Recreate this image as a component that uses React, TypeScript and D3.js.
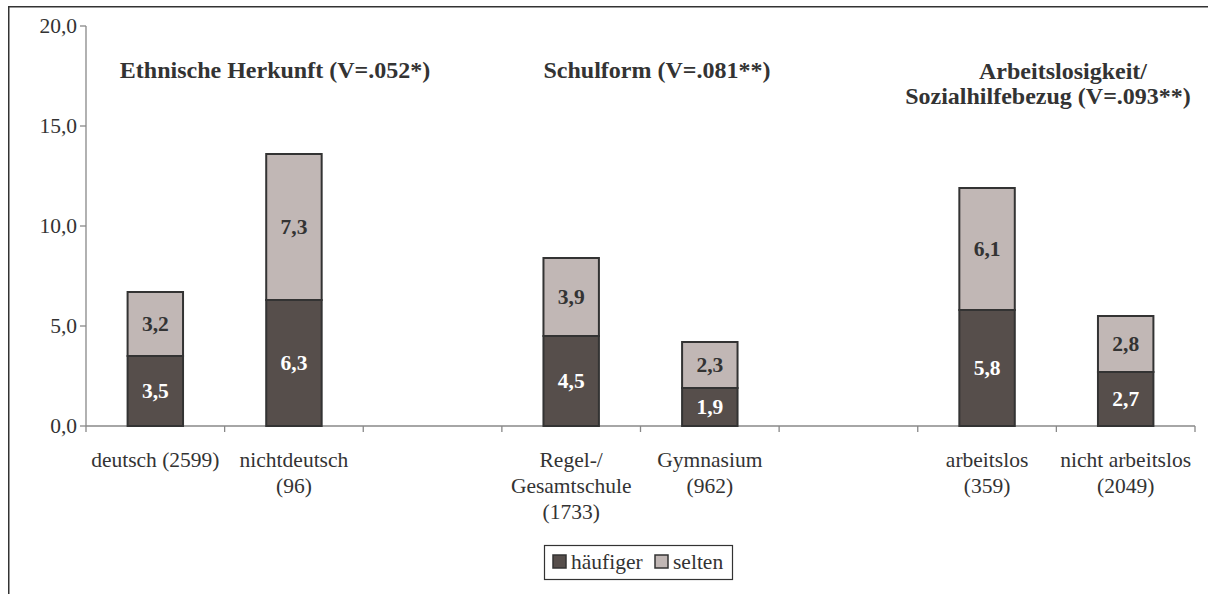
import React from "react";
import * as d3 from "d3";

const categories: string[][] = [
  ["deutsch (2599)"],
  ["nichtdeutsch", "(96)"],
  [],
  ["Regel-/", "Gesamtschule", "(1733)"],
  ["Gymnasium", "(962)"],
  [],
  ["arbeitslos", "(359)"],
  ["nicht arbeitslos", "(2049)"],
];
const haeufiger: (number | null)[] = [3.5, 6.3, null, 4.5, 1.9, null, 5.8, 2.7];
const selten: (number | null)[] = [3.2, 7.3, null, 3.9, 2.3, null, 6.1, 2.8];
const yTicks = [0, 5, 10, 15, 20];
const seriesNames = ["häufiger", "selten"];
const groupTitles: { lines: string[]; x: number[]; y: number[] }[] = [
  { lines: ["Ethnische Herkunft (V=.052*)"], x: [275], y: [78] },
  { lines: ["Schulform (V=.081**)"], x: [657], y: [78] },
  { lines: ["Arbeitslosigkeit/", "Sozialhilfebezug (V=.093**)"], x: [1063, 1048], y: [79, 104] },
];

const DARK = "#564e4b";
const LIGHT = "#c1b7b5";
const INK = "#333333";
const FONT = '"Liberation Serif", "Times New Roman", serif';
const FS = 21.5;
const FT = 24;
const ts: React.CSSProperties = { fontFamily: FONT };

export default function App() {
  const W = 1208, H = 594;
  const x0 = 86, x1 = 1195, yTop = 26, yBot = 426;
  const x = d3.scaleBand<number>().domain(d3.range(categories.length)).range([x0, x1]).padding(0);
  const y = d3.scaleLinear().domain([0, 20]).range([yBot, yTop]);
  const bw = x.bandwidth() * 0.4;
  const fmt = (v: number) => v.toFixed(1).replace(".", ",");

  return (
    <svg width={W} height={H} style={{ position: "absolute", left: 0, top: 0, fontFamily: FONT }}>
      <rect x={0} y={0} width={W} height={H} fill="#fff" />
      <path d={`M8.75,${H + 5} V6.75 H${W + 5}`} fill="none" stroke={INK} strokeWidth={1.5} />
      {/* y axis */}
      <line x1={x0} x2={x0} y1={yTop} y2={yBot} stroke="#888" strokeWidth={1.3} />
      {yTicks.map((t) => (
        <g key={t}>
          <line x1={x0 - 6} x2={x0} y1={y(t)} y2={y(t)} stroke="#888" strokeWidth={1.3} />
          <text x={77} y={y(t) + 7} textAnchor="end" fontSize={FS} fill={INK} style={ts}>
            {fmt(t)}
          </text>
        </g>
      ))}
      {/* x axis */}
      <line x1={x0} x2={x1} y1={yBot} y2={yBot} stroke="#888" strokeWidth={1.3} />
      {d3.range(categories.length + 1).map((i) => {
        const xx = i < categories.length ? (x(i) as number) : x1;
        return <line key={i} x1={xx} x2={xx} y1={yBot} y2={yBot + 6} stroke="#888" strokeWidth={1.3} />;
      })}
      {/* bars */}
      {categories.map((_, i) => {
        const h = haeufiger[i];
        const s = selten[i];
        if (h == null || s == null) return null;
        const cx = (x(i) as number) + x.bandwidth() / 2;
        return (
          <g key={i}>
            <rect x={cx - bw / 2} y={y(h)} width={bw} height={y(0) - y(h)} fill={DARK} stroke={INK} strokeWidth={2} />
            <rect x={cx - bw / 2} y={y(h + s)} width={bw} height={y(h) - y(h + s)} fill={LIGHT} stroke={INK} strokeWidth={2} />
            <text x={cx} y={(y(0) + y(h)) / 2 + 7} textAnchor="middle" fontSize={FS} fontWeight="bold" fill="#fff" style={ts}>
              {fmt(h)}
            </text>
            <text x={cx} y={(y(h) + y(h + s)) / 2 + 7} textAnchor="middle" fontSize={FS} fontWeight="bold" fill={INK} style={ts}>
              {fmt(s)}
            </text>
          </g>
        );
      })}
      {/* category labels */}
      {categories.map((lines, i) => {
        const cx = (x(i) as number) + x.bandwidth() / 2;
        return lines.map((l, j) => (
          <text key={i + "-" + j} x={cx} y={467 + j * 26} textAnchor="middle" fontSize={FS} fill={INK} style={ts}>
            {l}
          </text>
        ));
      })}
      {/* titles */}
      {groupTitles.map((g, gi) =>
        g.lines.map((l, j) => (
          <text key={gi + "-" + j} x={g.x[j]} y={g.y[j]} textAnchor="middle" fontSize={FT} fontWeight="bold" fill={INK} style={ts}>
            {l}
          </text>
        ))
      )}
      {/* legend */}
      <rect x={544.5} y={545.5} width={188} height={34} fill="#fff" stroke={INK} strokeWidth={1.2} />
      {seriesNames.map((n, i) => {
        const sx = i === 0 ? 553 : 655;
        return (
          <g key={n}>
            <rect x={sx} y={555} width={13} height={13} fill={i === 0 ? DARK : LIGHT} stroke={INK} strokeWidth={1.5} />
            <text x={sx + 18} y={569} fontSize={FS} fill={INK} style={ts}>
              {n}
            </text>
          </g>
        );
      })}
    </svg>
  );
}
